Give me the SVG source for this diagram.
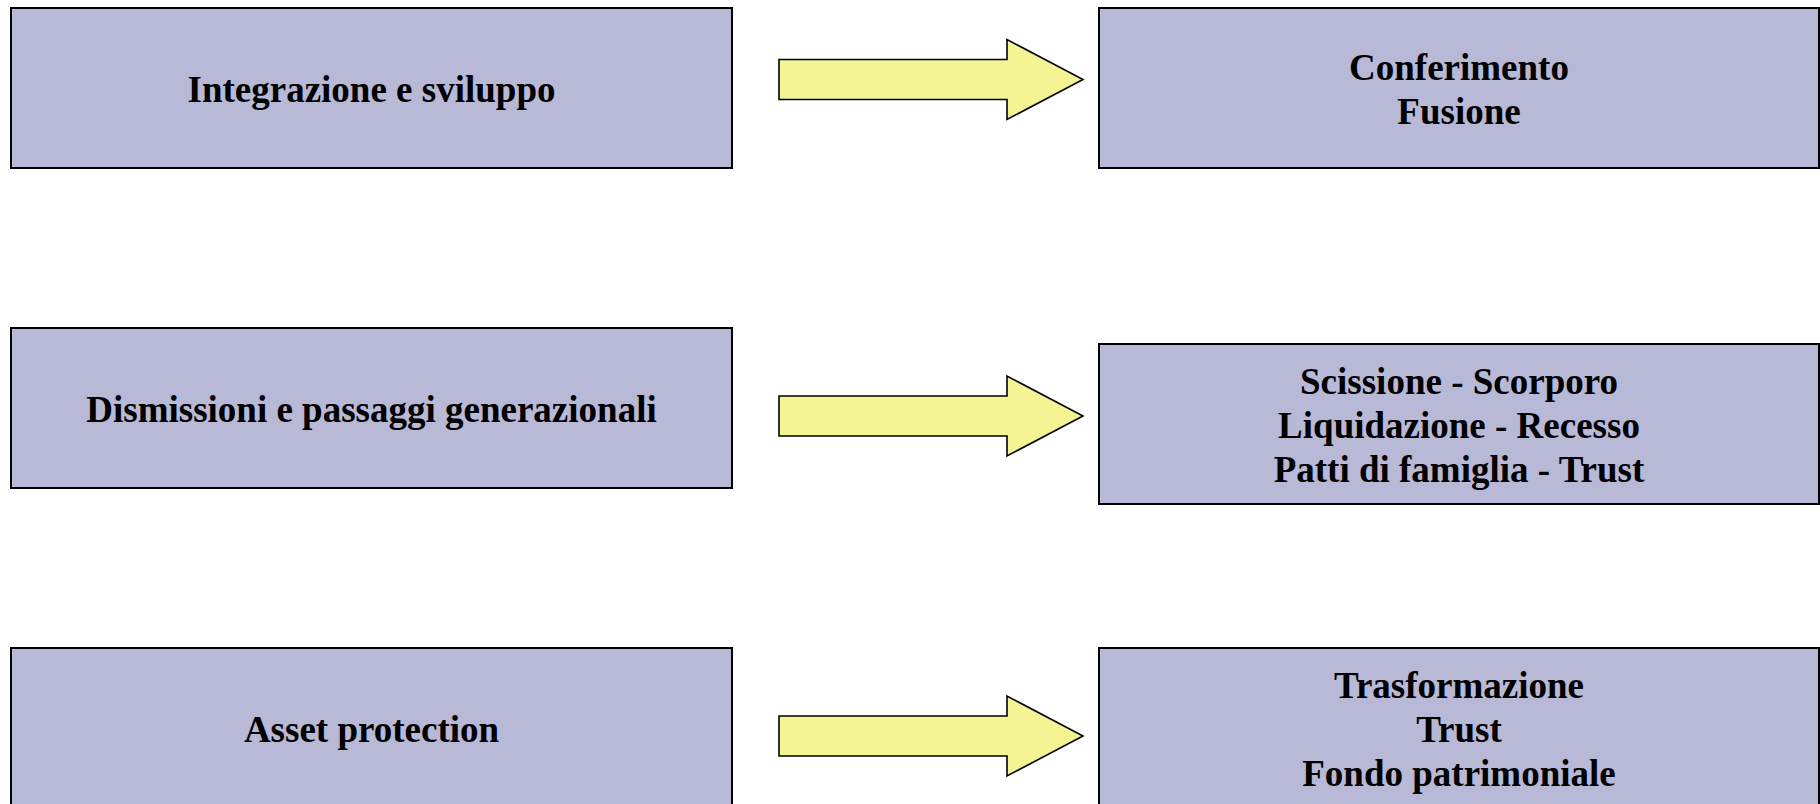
<svg xmlns="http://www.w3.org/2000/svg" width="1820" height="804" viewBox="0 0 1820 804">
<style>
.box{fill:#B8B9D6;stroke:#000;stroke-width:2}
.arrow{fill:#F3F595;stroke:#000;stroke-width:1.6;stroke-linejoin:miter}
text{font-family:"Liberation Serif","Times New Roman",serif;font-weight:bold;font-size:37px;fill:#000;text-anchor:middle}
</style>
<rect width="1820" height="804" fill="#fff"/>
<g id="n1"><rect class="box" x="11" y="8" width="721" height="160"/><text x="371.5" y="102">Integrazione e sviluppo</text></g>
<g id="n2"><rect class="box" x="1099" y="8" width="720" height="160"/><text x="1459" y="80">Conferimento</text><text x="1459" y="124">Fusione</text></g>
<g id="n3"><rect class="box" x="11" y="328" width="721" height="160"/><text x="371.5" y="422">Dismissioni e passaggi generazionali</text></g>
<g id="n4"><rect class="box" x="1099" y="344" width="720" height="160"/><text x="1459" y="394">Scissione - Scorporo</text><text x="1459" y="438">Liquidazione - Recesso</text><text x="1459" y="482">Patti di famiglia - Trust</text></g>
<g id="n5"><rect class="box" x="11" y="648" width="721" height="160"/><text x="371.5" y="742">Asset protection</text></g>
<g id="n6"><rect class="box" x="1099" y="648" width="720" height="160"/><text x="1459" y="698">Trasformazione</text><text x="1459" y="742">Trust</text><text x="1459" y="786">Fondo patrimoniale</text></g>
<g id="connectors">
<polygon class="arrow" points="779,59.5 1007,59.5 1007,39.5 1083,79.5 1007,119.5 1007,99.5 779,99.5"/>
<polygon class="arrow" points="779,396 1007,396 1007,376 1083,416 1007,456 1007,436 779,436"/>
<polygon class="arrow" points="779,716 1007,716 1007,696 1083,736 1007,776 1007,756 779,756"/>
</g>
</svg>
